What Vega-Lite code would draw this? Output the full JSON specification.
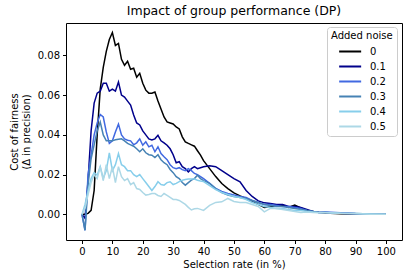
{
"$schema":"https://vega.github.io/schema/vega-lite/v6.json",
"width":336,"height":217,
"autosize":{"type":"none"},
"padding":{"left":66,"top":23,"right":6,"bottom":38},
"config":{"font":"DejaVu Sans","view":{"stroke":"black","strokeWidth":1},
"axis":{"domain":false,"grid":false,"tickColor":"black","tickSize":3.5,"labelColor":"black","labelFontSize":10,"titleFontSize":10,"titleFontWeight":"normal","titleColor":"black","labelPadding":3}},
"title":{"text":"Impact of group performance (DP)","fontSize":12.5,"fontWeight":"normal","color":"black","offset":6},
"data":{"values":[
{"s":0,"k0":0,"k1":0,"k2":0,"k3":0,"k4":0,"k5":0},
{"s":1,"k0":0,"k1":-0.002,"k2":-0.008,"k3":-0.008,"k4":0.005,"k5":0.003},
{"s":2,"k0":0.0005,"k1":0.017,"k2":0.02,"k3":0.015,"k4":0.012,"k5":0.01},
{"s":3,"k0":0.002,"k1":0.042,"k2":0.03,"k3":0.028,"k4":0.018,"k5":0.016},
{"s":4,"k0":0.012,"k1":0.056,"k2":0.04,"k3":0.035,"k4":0.021,"k5":0.02},
{"s":5,"k0":0.04,"k1":0.061,"k2":0.046,"k3":0.042,"k4":0.0197,"k5":0.018},
{"s":6,"k0":0.063,"k1":0.062,"k2":0.0503,"k3":0.0465,"k4":0.024,"k5":0.024},
{"s":7,"k0":0.074,"k1":0.066,"k2":0.049,"k3":0.04,"k4":0.018,"k5":0.017},
{"s":8,"k0":0.082,"k1":0.066,"k2":0.0415,"k3":0.037,"k4":0.022,"k5":0.025},
{"s":9,"k0":0.088,"k1":0.062,"k2":0.0357,"k3":0.037,"k4":0.031,"k5":0.018},
{"s":10,"k0":0.0915,"k1":0.063,"k2":0.037,"k3":0.037,"k4":0.022,"k5":0.024},
{"s":11,"k0":0.085,"k1":0.062,"k2":0.0415,"k3":0.0375,"k4":0.025,"k5":0.016},
{"s":12,"k0":0.086,"k1":0.0666,"k2":0.0454,"k3":0.0378,"k4":0.0306,"k5":0.024},
{"s":13,"k0":0.078,"k1":0.06,"k2":0.04,"k3":0.038,"k4":0.025,"k5":0.019},
{"s":14,"k0":0.075,"k1":0.059,"k2":0.038,"k3":0.037,"k4":0.024,"k5":0.017},
{"s":15,"k0":0.077,"k1":0.057,"k2":0.0373,"k3":0.0357,"k4":0.022,"k5":0.018},
{"s":16,"k0":0.073,"k1":0.055,"k2":0.037,"k3":0.035,"k4":0.022,"k5":0.015},
{"s":17,"k0":0.0735,"k1":0.05,"k2":0.035,"k3":0.0343,"k4":0.02,"k5":0.016},
{"s":18,"k0":0.069,"k1":0.046,"k2":0.036,"k3":0.033,"k4":0.019,"k5":0.013},
{"s":19,"k0":0.071,"k1":0.045,"k2":0.038,"k3":0.0315,"k4":0.02,"k5":0.0125},
{"s":20,"k0":0.066,"k1":0.042,"k2":0.0348,"k3":0.033,"k4":0.018,"k5":0.011},
{"s":21,"k0":0.0625,"k1":0.04,"k2":0.0365,"k3":0.031,"k4":0.016,"k5":0.0097},
{"s":22,"k0":0.061,"k1":0.038,"k2":0.034,"k3":0.03,"k4":0.014,"k5":0.01},
{"s":23,"k0":0.061,"k1":0.0375,"k2":0.0348,"k3":0.0298,"k4":0.012,"k5":0.0105},
{"s":24,"k0":0.0616,"k1":0.038,"k2":0.0315,"k3":0.0286,"k4":0.014,"k5":0.0105},
{"s":25,"k0":0.057,"k1":0.0398,"k2":0.034,"k3":0.03,"k4":0.0164,"k5":0.0095},
{"s":26,"k0":0.053,"k1":0.037,"k2":0.0306,"k3":0.0275,"k4":0.015,"k5":0.009},
{"s":27,"k0":0.049,"k1":0.036,"k2":0.029,"k3":0.026,"k4":0.0147,"k5":0.0105},
{"s":28,"k0":0.0465,"k1":0.0348,"k2":0.0275,"k3":0.025,"k4":0.016,"k5":0.0095},
{"s":29,"k0":0.046,"k1":0.033,"k2":0.025,"k3":0.0226,"k4":0.0164,"k5":0.0085},
{"s":30,"k0":0.0455,"k1":0.03,"k2":0.0235,"k3":0.021,"k4":0.015,"k5":0.0075},
{"s":31,"k0":0.044,"k1":0.026,"k2":0.023,"k3":0.019,"k4":0.0156,"k5":0.0075},
{"s":32,"k0":0.043,"k1":0.0265,"k2":0.0235,"k3":0.018,"k4":0.0165,"k5":0.007},
{"s":33,"k0":0.039,"k1":0.024,"k2":0.0225,"k3":0.016,"k4":0.0172,"k5":0.006},
{"s":34,"k0":0.0365,"k1":0.023,"k2":0.022,"k3":0.0147,"k4":0.0175,"k5":0.005},
{"s":35,"k0":0.0357,"k1":0.0214,"k2":0.023,"k3":0.016,"k4":0.0178,"k5":0.0035},
{"s":36,"k0":0.035,"k1":0.023,"k2":0.022,"k3":0.0172,"k4":0.0178,"k5":0.0022},
{"s":37,"k0":0.0343,"k1":0.024,"k2":0.0206,"k3":0.018,"k4":0.0178,"k5":0.0028},
{"s":38,"k0":0.032,"k1":0.023,"k2":0.02,"k3":0.0197,"k4":0.0172,"k5":0.003},
{"s":39,"k0":0.0298,"k1":0.0235,"k2":0.019,"k3":0.018,"k4":0.0168,"k5":0.0025},
{"s":40,"k0":0.027,"k1":0.024,"k2":0.018,"k3":0.017,"k4":0.0165,"k5":0.002},
{"s":42,"k0":0.023,"k1":0.0245,"k2":0.0156,"k3":0.0156,"k4":0.0145,"k5":0.0045},
{"s":44,"k0":0.019,"k1":0.024,"k2":0.013,"k3":0.013,"k4":0.0125,"k5":0.006},
{"s":46,"k0":0.0155,"k1":0.022,"k2":0.0115,"k3":0.011,"k4":0.011,"k5":0.0063},
{"s":48,"k0":0.013,"k1":0.02,"k2":0.0105,"k3":0.0097,"k4":0.01,"k5":0.008},
{"s":50,"k0":0.0108,"k1":0.018,"k2":0.0098,"k3":0.009,"k4":0.009,"k5":0.0065},
{"s":52,"k0":0.0093,"k1":0.0164,"k2":0.009,"k3":0.0085,"k4":0.0085,"k5":0.006},
{"s":54,"k0":0.008,"k1":0.012,"k2":0.0085,"k3":0.008,"k4":0.0075,"k5":0.006},
{"s":56,"k0":0.0065,"k1":0.009,"k2":0.007,"k3":0.007,"k4":0.006,"k5":0.005},
{"s":58,"k0":0.005,"k1":0.0068,"k2":0.006,"k3":0.006,"k4":0.005,"k5":0.004},
{"s":60,"k0":0.0035,"k1":0.0058,"k2":0.005,"k3":0.005,"k4":0.004,"k5":0.0013},
{"s":62,"k0":0.0038,"k1":0.0055,"k2":0.005,"k3":0.0045,"k4":0.0035,"k5":0.003},
{"s":64,"k0":0.0045,"k1":0.005,"k2":0.0045,"k3":0.004,"k4":0.003,"k5":0.003},
{"s":66,"k0":0.0047,"k1":0.005,"k2":0.004,"k3":0.004,"k4":0.003,"k5":0.0025},
{"s":68,"k0":0.0035,"k1":0.004,"k2":0.004,"k3":0.0035,"k4":0.0025,"k5":0.002},
{"s":70,"k0":0.0047,"k1":0.004,"k2":0.0035,"k3":0.003,"k4":0.002,"k5":0.0015},
{"s":72,"k0":0.0032,"k1":0.0035,"k2":0.003,"k3":0.0025,"k4":0.002,"k5":0.001},
{"s":74,"k0":0.002,"k1":0.0025,"k2":0.002,"k3":0.002,"k4":0.0015,"k5":0.0012},
{"s":76,"k0":0.0015,"k1":0.0015,"k2":0.0015,"k3":0.0015,"k4":0.0012,"k5":0.001},
{"s":78,"k0":0.001,"k1":0.001,"k2":0.001,"k3":0.001,"k4":0.001,"k5":0.0008},
{"s":80,"k0":0.0007,"k1":0.001,"k2":0.0012,"k3":0.001,"k4":0.001,"k5":0.0008},
{"s":85,"k0":0.0003,"k1":0.0005,"k2":0.0008,"k3":0.0006,"k4":0.0006,"k5":0.0005},
{"s":90,"k0":0.0002,"k1":0.0003,"k2":0.0004,"k3":0.0004,"k4":0.0004,"k5":0.0003},
{"s":95,"k0":0.0001,"k1":0.0001,"k2":0.0002,"k3":0.0002,"k4":0.0002,"k5":0.0001},
{"s":100,"k0":0,"k1":0,"k2":0,"k3":0,"k4":0,"k5":0}
]},
"transform":[{"fold":["k0","k1","k2","k3","k4","k5"],"as":["noise","value"]}],
"mark":{"type":"line","strokeWidth":1.5},
"encoding":{
"x":{"field":"s","type":"quantitative","scale":{"domain":[-5.26,105.3],"nice":false,"zero":false},
"axis":{"values":[0,10,20,30,40,50,60,70,80,90,100],"title":"Selection rate (in %)","titlePadding":3}},
"y":{"field":"value","type":"quantitative","scale":{"domain":[-0.0129,0.0963],"nice":false,"zero":false},
"axis":{"values":[0,0.02,0.04,0.06,0.08],"format":".2f","title":["Cost of fairness","(Δ in precision)"],"titlePadding":6,"titleLineHeight":12}},
"color":{"field":"noise","type":"nominal",
"scale":{"domain":["k0","k1","k2","k3","k4","k5"],"range":["#000000","#00008b","#4169e1","#4682b4","#87ceeb","#add8e6"]},
"legend":{"title":"Added noise","orient":"none","legendX":261,"legendY":4,"padding":4,
"fillColor":"rgba(255,255,255,0.8)","strokeColor":"#cccccc","cornerRadius":3,
"titleFontSize":10,"titleFontWeight":"normal","titleColor":"black","titlePadding":4,
"labelFontSize":10,"labelColor":"black","labelOffset":26,
"symbolType":"M0.3,0H4.3","symbolSize":121,"symbolStrokeWidth":2,"rowPadding":3,
"labelExpr":"datum.label == 'k0' ? '0' : '0.' + substring(datum.label, 1)"}}
}
}
